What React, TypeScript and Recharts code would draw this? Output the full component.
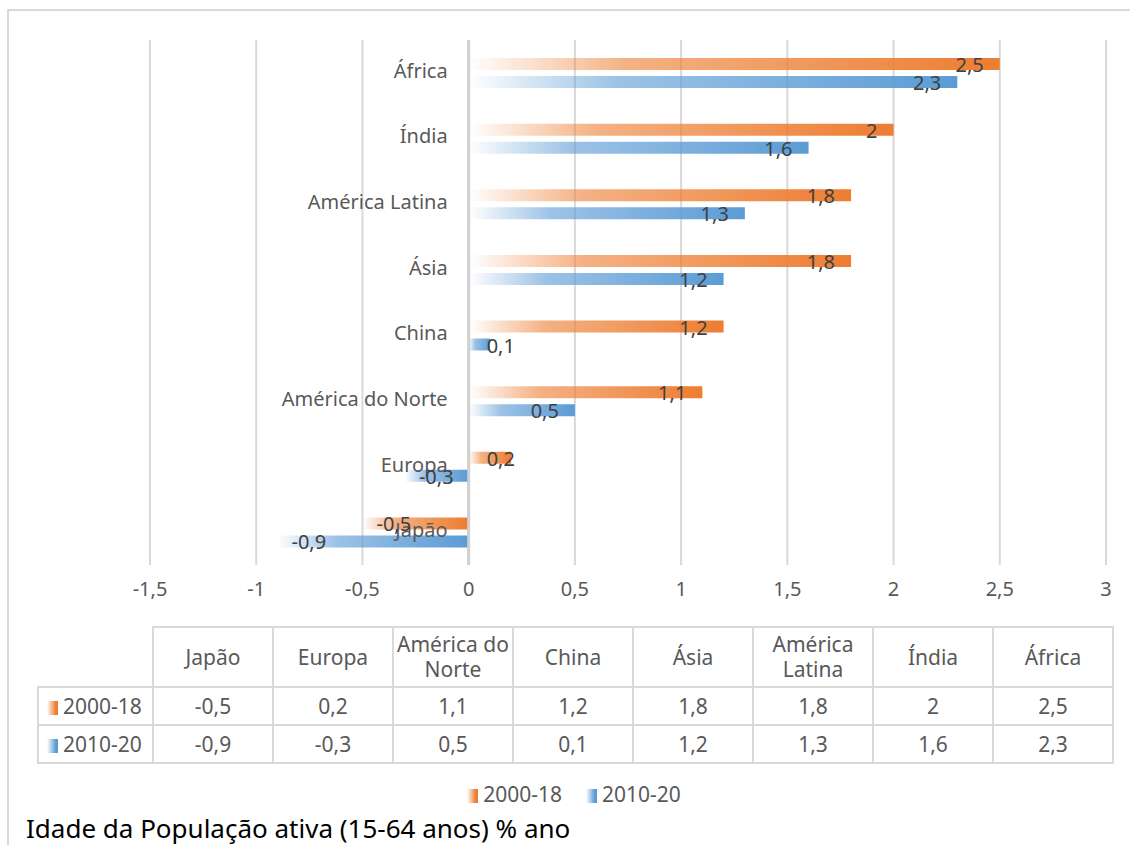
import React from 'react';
import { BarChart, Bar, XAxis, YAxis, CartesianGrid, ReferenceLine, LabelList } from 'recharts';

// data, in the data-table order (bottom of chart -> top)
const REGIONS = ['Japão', 'Europa', 'América do Norte', 'China', 'Ásia', 'América Latina', 'Índia', 'África'];
const SERIES_2000_18 = [-0.5, 0.2, 1.1, 1.2, 1.8, 1.8, 2, 2.5];
const SERIES_2010_20 = [-0.9, -0.3, 0.5, 0.1, 1.2, 1.3, 1.6, 2.3];
const SERIES_NAMES = ['2000-18', '2010-20'];
const X_TICKS = [-1.5, -1, -0.5, 0, 0.5, 1, 1.5, 2, 2.5, 3];
const TITLE = 'Idade da População ativa (15-64 anos) % ano';

const ORANGE = '#ED7D31';
const BLUE = '#5B9BD5';
const GRID = '#D9D9D9';
const TEXT = '#595959';
const FONT = '"Noto Sans", sans-serif';
const FS = 20;
const FS_TABLE = 21;

const CHART_W = 1130;
const CHART_H = 610;
const MARGIN = { top: 40, right: 24, left: 149, bottom: 0 };
const X_MIN = -1.5;
const X_MAX = 3;
const PLOT_LEFT = MARGIN.left + 1;
const PLOT_W = CHART_W - PLOT_LEFT - MARGIN.right;
const ZERO_X = PLOT_LEFT + ((0 - X_MIN) / (X_MAX - X_MIN)) * PLOT_W;

const fmt = (v: number) => String(v).replace('.', ',');

const chartData = REGIONS.map((name, i) => ({
  name,
  s1: SERIES_2000_18[i],
  s2: SERIES_2010_20[i],
}));

const SERIES = [
  { key: 's1', name: SERIES_NAMES[0], color: ORANGE, values: SERIES_2000_18 },
  { key: 's2', name: SERIES_NAMES[1], color: BLUE, values: SERIES_2010_20 },
];

// region names sit just left of the zero line, like Excel's "next to axis"
const CategoryTick = (props: any) => {
  const { y, payload } = props;
  return (
    <text x={ZERO_X - 21} y={y} dy={5} textAnchor="end" fill={TEXT} fontSize={FS} fontFamily={FONT}>
      {payload.value}
    </text>
  );
};

// inside-end label; short bars push the label out past the bar start, as Excel does
const BarValueLabel = (props: any) => {
  const { x, y, width, height, value } = props;
  const cy = y + height / 2 + 1;
  const short = Math.abs(width) < 60;
  let tx: number;
  let anchor: 'start' | 'end';
  if (width >= 0) {
    tx = short ? x + 18 : x + width - 16;
    anchor = short ? 'start' : 'end';
  } else {
    tx = x + width + 14;
    anchor = 'start';
  }
  return (
    <text x={tx} y={cy} dy={7} textAnchor={anchor} fill="#404040" fontSize={FS} fontFamily={FONT}>
      {fmt(Number(value))}
    </text>
  );
};

const keyStyle = (color: string): React.CSSProperties => ({
  display: 'inline-block',
  width: 11,
  height: 14,
  background: `linear-gradient(to right, rgba(255,255,255,0), ${color} 80%)`,
  marginRight: 5,
  verticalAlign: 'middle',
});

const cell: React.CSSProperties = {
  border: `2px solid ${GRID}`,
  textAlign: 'center',
  padding: 0,
  lineHeight: '25px',
};

const App: React.FC = () => {
  return (
    <div
      style={{
        position: 'absolute',
        left: 0,
        top: 0,
        width: 1130,
        height: 845,
        overflow: 'hidden',
        background: '#fff',
        fontFamily: FONT,
      }}
    >
      {/* chart area border (runs off the page on the right and bottom) */}
      <div
        style={{
          position: 'absolute',
          left: 7,
          top: 9,
          width: 1200,
          height: 900,
          borderLeft: `2px solid ${GRID}`,
          borderTop: `2px solid ${GRID}`,
        }}
      />

      <div style={{ position: 'absolute', left: 0, top: 0 }}>
        <BarChart
          width={CHART_W}
          height={CHART_H}
          data={chartData}
          layout="vertical"
          margin={MARGIN}
          barSize={12}
          barGap={6}
        >
          <defs>
            {SERIES.map((s) => (
              <linearGradient key={s.key} id={`grad-${s.key}`} x1="0" y1="0" x2="1" y2="0">
                <stop offset="0%" stopColor={s.color} stopOpacity={0} />
                <stop offset="30%" stopColor={s.color} stopOpacity={0.6} />
                <stop offset="100%" stopColor={s.color} stopOpacity={1} />
              </linearGradient>
            ))}
          </defs>
          <CartesianGrid horizontal={false} stroke={GRID} strokeWidth={2} />
          <XAxis
            type="number"
            domain={[X_MIN, X_MAX]}
            ticks={X_TICKS}
            tickFormatter={fmt}
            axisLine={false}
            tickLine={false}
            tickMargin={11}
            height={45}
            tick={{ fill: TEXT, fontSize: FS, fontFamily: FONT }}
            interval={0}
          />
          <YAxis
            type="category"
            dataKey="name"
            reversed
            width={1}
            axisLine={false}
            tickLine={false}
            tick={<CategoryTick />}
            interval={0}
          />
          <ReferenceLine x={0} stroke="#D0D0D0" strokeWidth={3} />
          {SERIES.map((s) => (
            <Bar key={s.key} dataKey={s.key} name={s.name} fill={`url(#grad-${s.key})`} isAnimationActive={false}>
              <LabelList dataKey={s.key} content={<BarValueLabel />} />
            </Bar>
          ))}
        </BarChart>
      </div>

      {/* data table */}
      <table
        style={{
          position: 'absolute',
          left: 37,
          top: 626,
          borderCollapse: 'collapse',
          tableLayout: 'fixed',
          color: TEXT,
          fontSize: FS_TABLE,
          fontFamily: FONT,
        }}
      >
        <colgroup>
          <col style={{ width: 115 }} />
          {REGIONS.map((r) => (
            <col key={r} style={{ width: 120 }} />
          ))}
        </colgroup>
        <tbody>
          <tr style={{ height: 60 }}>
            <td style={{ ...cell, borderTop: 'hidden', borderLeft: 'hidden' }} />
            {REGIONS.map((r) => (
              <td key={r} style={cell}>
                {r}
              </td>
            ))}
          </tr>
          {SERIES.map((s) => (
            <tr key={s.key} style={{ height: 38 }}>
              <td style={{ ...cell, textAlign: 'left', paddingLeft: 8, whiteSpace: 'nowrap' }}>
                <span style={keyStyle(s.color)} />
                {s.name}
              </td>
              {s.values.map((v, i) => (
                <td key={i} style={cell}>
                  {fmt(v)}
                </td>
              ))}
            </tr>
          ))}
        </tbody>
      </table>

      {/* legend */}
      <div
        style={{
          position: 'absolute',
          left: 0,
          width: 1130,
          top: 780,
          textAlign: 'center',
          fontSize: FS_TABLE,
          color: TEXT,
          paddingLeft: 42,
          boxSizing: 'border-box',
        }}
      >
        {SERIES.map((s) => (
          <span key={s.key} style={{ marginRight: 24 }}>
            <span style={keyStyle(s.color)} />
            {s.name}
          </span>
        ))}
      </div>

      {/* title */}
      <div
        style={{
          position: 'absolute',
          left: 26,
          top: 810,
          fontSize: 26,
          color: '#000',
          whiteSpace: 'nowrap',
        }}
      >
        {TITLE}
      </div>
    </div>
  );
};

export default App;
